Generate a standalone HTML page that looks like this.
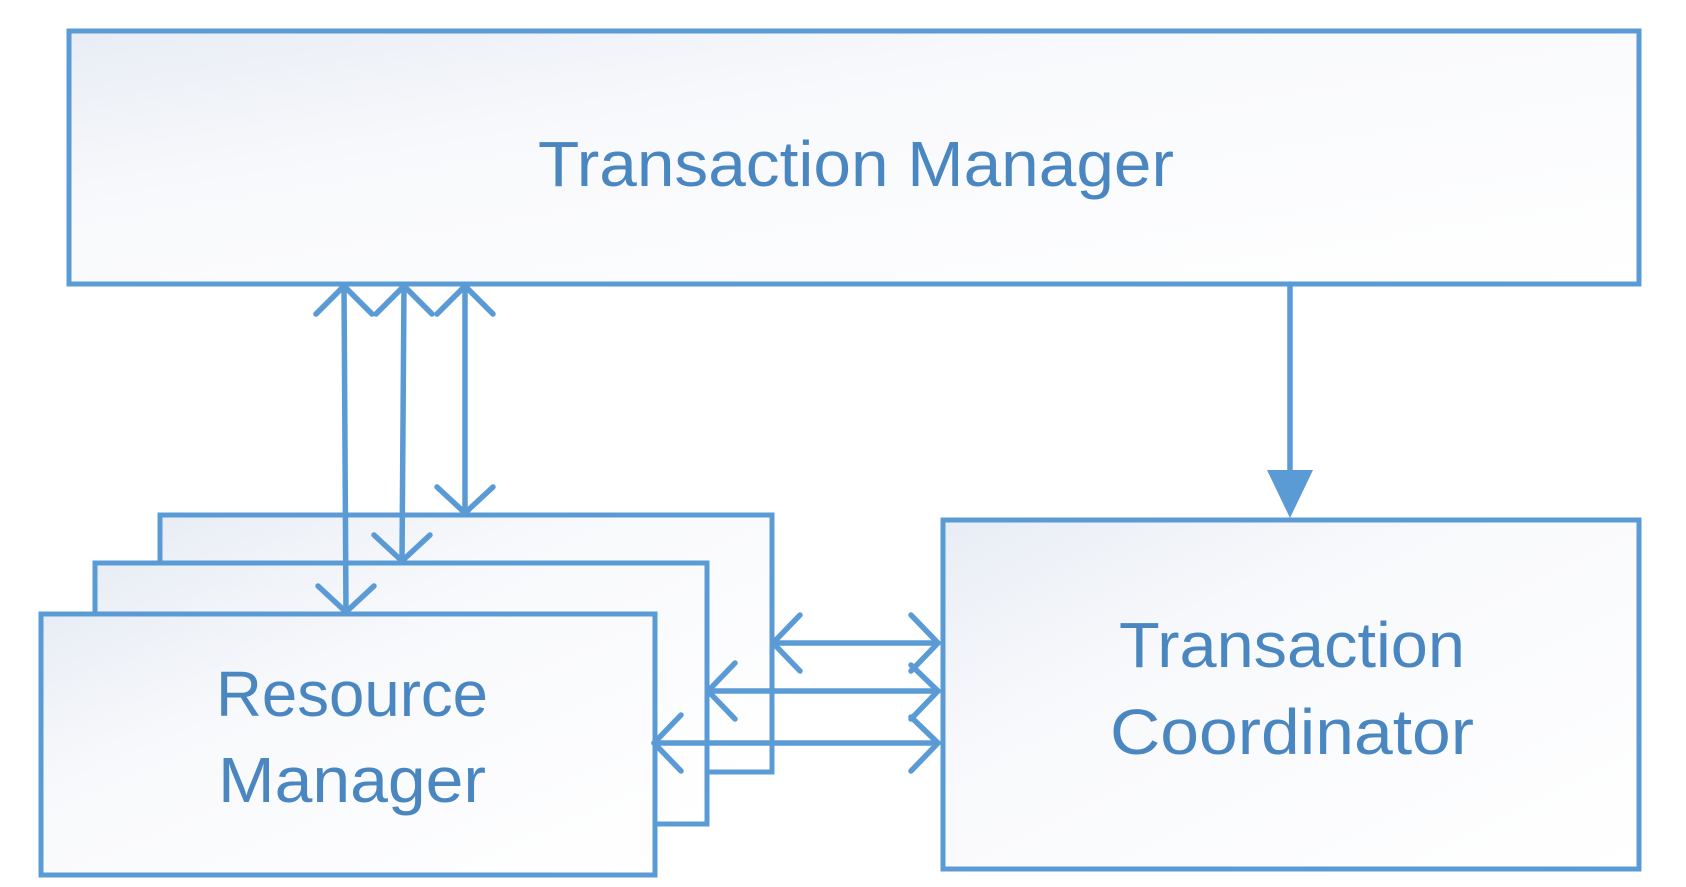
<!DOCTYPE html>
<html><head><style>
html,body{margin:0;padding:0;background:#fff;}
svg{display:block;}
text{font-family:"Liberation Sans",sans-serif;fill:#4a86c0;}
</style></head><body>
<svg width="1686" height="887" viewBox="0 0 1686 887" xmlns="http://www.w3.org/2000/svg">
<defs>
<linearGradient id="g" x1="0" y1="0" x2="1" y2="1">
<stop offset="0" stop-color="#e8edf5"/><stop offset="0.35" stop-color="#f8f9fc"/><stop offset="1" stop-color="#ffffff"/>
</linearGradient>
</defs>
<g stroke="#5b9bd5" stroke-width="5" fill="url(#g)">
<rect x="69" y="31" width="1570" height="253"/>
<rect x="160" y="515" width="612" height="257"/>
<rect x="95" y="563" width="612" height="261"/>
<rect x="41" y="614" width="614" height="261"/>
<rect x="943" y="520" width="696" height="349"/>
</g>
<g stroke="#5b9bd5" stroke-width="5.5" fill="none" stroke-linecap="round" stroke-linejoin="round">
<line x1="344" y1="286" x2="346" y2="612"/>
<polyline points="316,314 344,286 372,314"/>
<polyline points="318,586 346,612 374,586"/>
<line x1="404" y1="286" x2="402" y2="561"/>
<polyline points="376,314 404,286 432,314"/>
<polyline points="374,535 402,561 430,535"/>
<line x1="465" y1="286" x2="465" y2="513"/>
<polyline points="437,314 465,286 493,314"/>
<polyline points="437,487 465,513 493,487"/>
<line x1="1290" y1="284" x2="1290" y2="480"/>
<line x1="773" y1="643" x2="938" y2="643"/>
<polyline points="800,615 773,643 800,671"/>
<polyline points="911,615 938,643 911,671"/>
<line x1="708" y1="691" x2="938" y2="691"/>
<polyline points="735,663 708,691 735,719"/>
<polyline points="911,665 938,691 911,719"/>
<line x1="654" y1="743" x2="938" y2="743"/>
<polyline points="681,715 654,743 681,771"/>
<polyline points="911,717 938,743 911,771"/>
</g>
<polygon points="1267,470 1313,470 1290,518" fill="#5b9bd5"/>
<text x="856" y="186" font-size="64" text-anchor="middle" textLength="636" lengthAdjust="spacingAndGlyphs">Transaction Manager</text>
<text x="1292" y="667" font-size="64" text-anchor="middle" textLength="346" lengthAdjust="spacingAndGlyphs">Transaction</text>
<text x="1292" y="754" font-size="64" text-anchor="middle" textLength="364" lengthAdjust="spacingAndGlyphs">Coordinator</text>
<text x="352" y="716" font-size="64" text-anchor="middle" textLength="272" lengthAdjust="spacingAndGlyphs">Resource</text>
<text x="352" y="802" font-size="64" text-anchor="middle" textLength="268" lengthAdjust="spacingAndGlyphs">Manager</text>
</svg>
</body></html>
